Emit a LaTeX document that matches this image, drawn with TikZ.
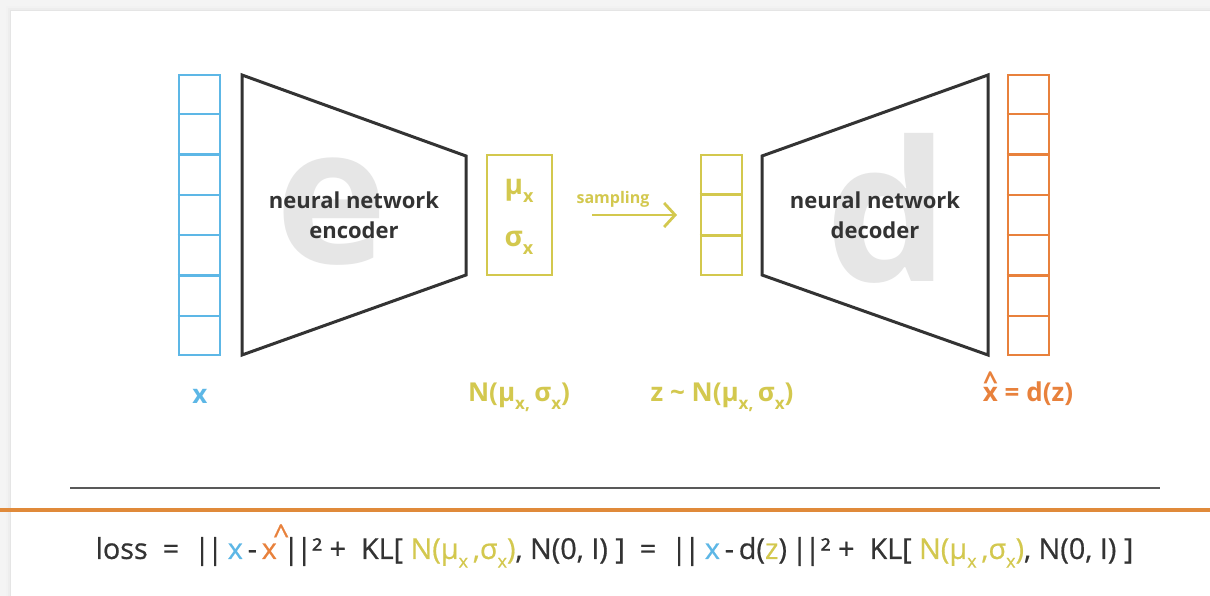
\documentclass[tikz,border=0pt]{standalone}
\usepackage{fontspec}
\setmainfont{Open Sans}
\newfontfamily\lossfont[FakeBold=0.6]{Open Sans}
\usetikzlibrary{arrows.meta,calc}

\definecolor{inblue}{HTML}{5DB7E6}
\definecolor{latent}{HTML}{D3C84E}
\definecolor{outorange}{HTML}{E8813C}
\definecolor{ruleorange}{HTML}{E08A3A}
\definecolor{ink}{HTML}{333333}
\definecolor{wmgray}{HTML}{E6E6E6}
\definecolor{pagegray}{HTML}{F4F4F4}

\newcommand\setfs[1]{\fontsize{#1}{#1}\selectfont}
% lowered subscript in the current size
\newcommand\dn[2]{\raisebox{-0.3em}{\setfs{#1}#2}}
% x with a centred hat
\newcommand\xhatc{\ooalign{x\cr\hidewidth\raisebox{0.45em}{\textasciicircum}\hidewidth\cr}}
% x with the hat set off to the right
\newcommand\xhatr{x\kern-0.12em\raisebox{0.48em}{\textasciicircum}\kern-0.2em}
% double bar of the norm
\newcommand\nrm{|\kern-0.1em|}

\begin{document}
\begin{tikzpicture}[x=1pt,y=-1pt,
  vecbox/.style={draw, line width=2.6pt, minimum width=41pt, inner sep=0pt},
  trapez/.style={draw=ink, line width=3pt, line join=miter},
  wmark/.style={text=wmgray, font=\bfseries\setfs{190}, inner sep=0pt},
  nettext/.style={text=ink, font=\bfseries\fontsize{22}{30}\selectfont, align=center},
  lbl/.style={font=\bfseries\setfs{26}, inner sep=0pt},
  param/.style={text=latent, font=\bfseries\setfs{28}, inner sep=0pt}]

% page and card
\useasboundingbox (0,0) rectangle (1210,596);
\fill[pagegray] (0,0) rectangle (1210,596);
\fill[black!5] (6,6) rectangle (1210,596);
\fill[black!7] (8,8) rectangle (1210,596);
\fill[black!10] (10,10) rectangle (1210,596);
\fill[white] (11,11) rectangle (1210,596);

% input vector
\node[vecbox, draw=inblue, minimum height=280pt] (xin) at (199.5,215) {};
\foreach \k in {1,...,6}
  \draw[inblue, line width=2.6pt] ($(xin.north west)!\k/7!(xin.south west)$) -- ($(xin.north east)!\k/7!(xin.south east)$);

% encoder
\node[wmark] (ewm) at (332,212) {e};
\coordinate (e1) at (242,75);
\coordinate (e2) at (466,156);
\coordinate (e3) at (466,275);
\coordinate (e4) at (242,355);
\draw[trapez] (e1) -- (e2) -- (e3) -- (e4) -- cycle;
\node[nettext] (enc) at (354,215) {neural network\\encoder};

% mean and deviation
\node[vecbox, draw=latent, minimum width=65pt, minimum height=120pt] (musig) at (519.5,215) {};
\node[param] (mu) at (519,191) {μ\dn{18}{x}};
\node[param] (sig) at (519,243) {σ\dn{18}{x}};

% sampling
\node[text=latent, font=\bfseries\setfs{16}] (samp) at (613,199) {sampling};
\coordinate (sA) at (592,215);
\coordinate (sB) at (677,215);
\draw[latent, line width=2.8pt, -{Straight Barb[length=11pt,width=24pt,line width=2.8pt]}] (sA) -- (sB);

% latent vector
\node[vecbox, draw=latent, minimum height=120pt] (zv) at (721.5,215) {};
\foreach \k in {1,2}
  \draw[latent, line width=2.6pt] ($(zv.north west)!\k/3!(zv.south west)$) -- ($(zv.north east)!\k/3!(zv.south east)$);

% decoder
\node[wmark, font=\bfseries\setfs{195}] (dwm) at (887,208) {d};
\coordinate (d1) at (762,156);
\coordinate (d2) at (988,75);
\coordinate (d3) at (988,355);
\coordinate (d4) at (762,275);
\draw[trapez] (d1) -- (d2) -- (d3) -- (d4) -- cycle;
\node[nettext] (dec) at (875,215) {neural network\\decoder};

% output vector
\node[vecbox, draw=outorange, minimum height=280pt] (xout) at (1028.5,215) {};
\foreach \k in {1,...,6}
  \draw[outorange, line width=2.6pt] ($(xout.north west)!\k/7!(xout.south west)$) -- ($(xout.north east)!\k/7!(xout.south east)$);

% labels
\node[lbl, text=inblue] (lx) at (200,396) {x};
\node[lbl, text=latent] (ln) at (519,397) {N(μ\dn{17}{x,}\,σ\dn{17}{x})};
\node[lbl, text=latent] (lz) at (722,397) {z \textasciitilde\ N(μ\dn{17}{x,}\,σ\dn{17}{x})};
\node[lbl, text=outorange] (lxh) at (1028,394) {\xhatc\ = d(z)};

% rules
\coordinate (g1) at (70,488);
\coordinate (g2) at (1160,488);
\draw[black!65, line width=1.5pt] (g1) -- (g2);
\coordinate (o1) at (0,510);
\coordinate (o2) at (1210,510);
\draw[ruleorange, line width=3.5pt] (o1) -- (o2);

% loss
\node[text=ink, font=\lossfont\setfs{28.8}, inner sep=0pt] (loss) at (614.5,546)
  {loss\ \ =\ \ \nrm\,\textcolor{inblue}{x}\,-\,\textcolor{outorange}{\xhatr}\nrm²\ +\ \ KL[\ \textcolor{latent}{N(μ\dn{18}{x}\,,σ\dn{18}{x})}, N(0, I)\ ]\ \ =\ \ \nrm\,\textcolor{inblue}{x}\,-\,d(\textcolor{latent}{z})\,\nrm²\ +\ \ KL[\ \textcolor{latent}{N(μ\dn{18}{x}\,,σ\dn{18}{x})}, N(0, I)\ ]};

\end{tikzpicture}
\end{document}
